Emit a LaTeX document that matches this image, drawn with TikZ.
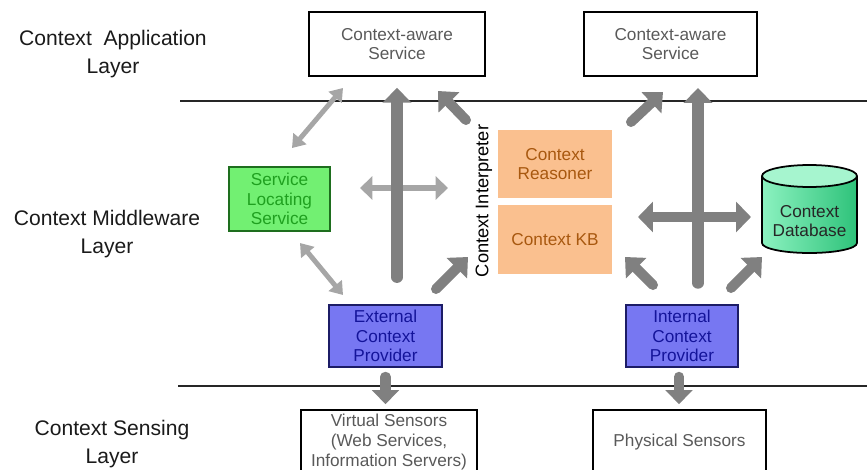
\documentclass[tikz,border=0pt]{standalone}
\usepackage{fontspec}
\setmainfont{Liberation Sans}
\usetikzlibrary{arrows.meta}
\definecolor{labeltext}{HTML}{1A1A1A}
\definecolor{svctext}{HTML}{595959}
\definecolor{arrdark}{HTML}{808080}
\definecolor{arrlight}{HTML}{A6A6A6}
\definecolor{slsfill}{HTML}{72F072}
\definecolor{slsdraw}{HTML}{1E6E1E}
\definecolor{slstext}{HTML}{1FA01F}
\definecolor{cpfill}{HTML}{7777F2}
\definecolor{cpdraw}{HTML}{1C1C66}
\definecolor{cptext}{HTML}{14149A}
\definecolor{cifill}{HTML}{FAC08F}
\definecolor{citext}{HTML}{A8580F}
\definecolor{dbleft}{HTML}{8CF2C0}
\definecolor{dbright}{HTML}{2EC27A}
\definecolor{dbtop}{HTML}{A6F5CF}
\begin{document}
\begin{tikzpicture}[x=0.02cm, y=-0.02cm,
    layer/.style={font=\fontsize{12}{15.5}\selectfont, text=labeltext, align=center},
    box/.style={line width=0.9pt, align=center, inner sep=0pt,
        font=\fontsize{9.8}{11.2}\selectfont},
    svc/.style={box, draw=black, text=svctext, minimum height=1.28cm},
    provider/.style={box, draw=cpdraw, fill=cpfill, text=cptext,
        minimum width=2.25cm, minimum height=1.24cm},
    interp/.style={box, fill=cifill, text=citext, minimum width=2.28cm},
    sep/.style={line width=0.9pt, draw=black!85},
    bigarr/.style={draw=arrdark, line width=6.5pt, line cap=round,
        -{Triangle[width=16pt,length=8.5pt]}},
    diagarr/.style={draw=arrdark, line width=5.7pt, line cap=round,
        -{Triangle[width=16pt,length=9pt]}},
    dualarr/.style={draw=arrdark, line width=5.7pt,
        {Triangle[width=17pt,length=8.5pt]}-{Triangle[width=17pt,length=8.5pt]}},
    lightarr/.style={draw=arrlight, line width=2.8pt,
        {Triangle[width=9.5pt,length=7pt]}-{Triangle[width=9.5pt,length=7pt]}},
    lightdual/.style={draw=arrlight, line width=3.8pt,
        {Triangle[width=13pt,length=7pt]}-{Triangle[width=13pt,length=7pt]}},
    downarr/.style={draw=arrdark, line width=5.7pt, line cap=round,
        -{Triangle[width=15pt,length=8pt]}}]
\useasboundingbox (0,0) rectangle (867,470);

% layers
\node[layer] (lapp) at (113,54) {Context~ Application\\Layer};
\node[layer] (lmid) at (107,234) {Context Middleware\\Layer};
\node[layer] (lsen) at (112,444) {Context Sensing\\Layer};
\draw[sep] (180,101) -- (867,101);
\draw[sep] (178,386) -- (867,386);

% application layer
\node[svc, minimum width=3.52cm] (cas1) at (397,44) {Context-aware\\Service};
\node[svc, minimum width=3.46cm] (cas2) at (670.5,44) {Context-aware\\Service};

% middleware layer
\node[box, draw=slsdraw, fill=slsfill, text=slstext, minimum width=2.02cm,
    minimum height=1.28cm] (sls) at (279.5,199) {Service\\Locating\\Service};
\node[provider] (ecp) at (385.5,336) {External\\Context\\Provider};
\node[provider] (icp) at (682,336) {Internal\\Context\\Provider};
\node[interp, minimum height=1.36cm] (reas) at (555,164) {Context\\Reasoner};
\node[interp, minimum height=1.38cm] (ckb) at (555,239.5) {Context KB};
\node[rotate=90, font=\fontsize{10.4}{12}\selectfont] (cint) at (484,201) {Context Interpreter};

% database
\fill[left color=dbleft, right color=dbright] (762,176) -- (762,243)
    arc[start angle=180, end angle=0, x radius=47.5, y radius=10] -- (857,176)
    arc[start angle=0, end angle=-180, x radius=47.5, y radius=11] -- cycle;
\draw[line width=1pt, fill=dbtop] (809.5,176) ellipse[x radius=47.5, y radius=11];
\draw[line width=1pt] (762,176) -- (762,243)
    arc[start angle=180, end angle=0, x radius=47.5, y radius=10] -- (857,176);
\node[box, text=black!85] (cdb) at (809.5,221) {Context\\Database};

% sensing layer
\node[svc, minimum width=3.52cm] (vs) at (389,442) {Virtual Sensors\\(Web Services,\\Information Servers)};
\node[svc, minimum width=3.46cm] (ps) at (679.5,442) {Physical Sensors};

% arrow ends
\coordinate (sl1) at (292,148);
\coordinate (sl2) at (343,88);
\coordinate (se1) at (300,243);
\coordinate (se2) at (343,295);
\coordinate (lh1) at (360,188);
\coordinate (lh2) at (448,188);
\coordinate (ea1) at (466,120);
\coordinate (ea2) at (438,91);
\coordinate (eb1) at (436,289);
\coordinate (eb2) at (468,257);
\coordinate (rv1) at (698,283);
\coordinate (rv2) at (698,88);
\coordinate (rh1) at (638,217);
\coordinate (rh2) at (751,217);
\coordinate (ra1) at (631,122);
\coordinate (ra2) at (663,92);
\coordinate (rb1) at (653,285);
\coordinate (rb2) at (625,257);
\coordinate (rc1) at (731,288);
\coordinate (rc2) at (762,257);

% arrows
\draw[lightarr] (sl1) -- (sl2);
\draw[lightarr] (se1) -- (se2);
\draw[lightdual] (lh1) -- (lh2);
\draw[bigarr, shorten <=0.54cm, shorten >=0.22cm] (cas1.south |- ecp.north) -- (cas1.south);
\draw[diagarr] (ea1) -- (ea2);
\draw[diagarr] (eb1) -- (eb2);
\draw[dualarr] (rh1) -- (rh2);
\draw[bigarr] (rv1) -- (rv2);
\draw[diagarr] (ra1) -- (ra2);
\draw[diagarr] (rb1) -- (rb2);
\draw[diagarr] (rc1) -- (rc2);
\draw[downarr, shorten <=0.18cm, shorten >=0.1cm] (ecp.south) -- (ecp.south |- vs.north);
\draw[downarr, shorten <=0.18cm, shorten >=0.1cm] ([xshift=-0.06cm]icp.south) -- ([xshift=-0.06cm]icp.south |- ps.north);
\end{tikzpicture}
\end{document}
